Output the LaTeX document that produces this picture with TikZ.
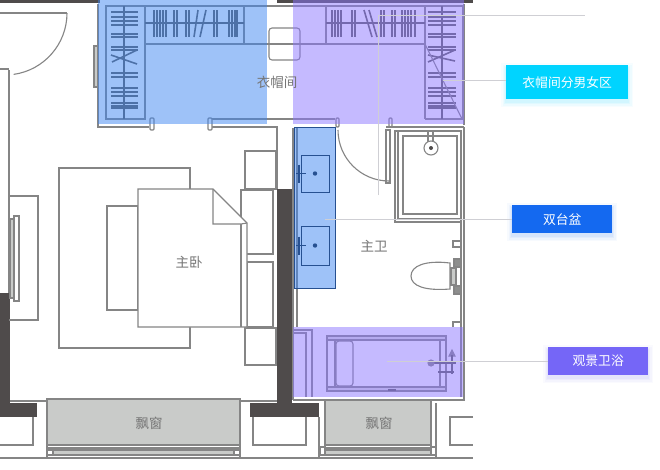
\documentclass[tikz,border=0pt]{standalone}
\usepackage{fontspec}
\setmainfont{Noto Sans CJK SC}
\definecolor{wl}{HTML}{858585}
\definecolor{dk}{HTML}{4F4B4B}
\definecolor{bay}{HTML}{C9CBC9}
\definecolor{ovb}{HTML}{3F86F2}
\definecolor{ovp}{HTML}{8C76FF}
\definecolor{lead}{HTML}{CFCFD4}
\definecolor{tx}{HTML}{757575}
\definecolor{cya}{HTML}{00D4FF}
\definecolor{blu}{HTML}{1469F0}
\definecolor{pur}{HTML}{7566F7}
\tikzset{
 plan/.style={draw=wl,line width=1.1pt},
 thick plan/.style={draw=wl,line width=2pt},
 wallfill/.style={fill=dk,draw=none},
 hang/.style={draw=wl!70!black,line width=1.6pt},
 roomtext/.style={text=tx,font=\fontsize{13.5}{14}\selectfont,inner sep=0pt},
 leader/.style={draw=lead,line width=0.6pt},
 tag/.style={text=white,font=\fontsize{12.8}{13}\selectfont,inner sep=0pt,minimum height=28pt,anchor=north west},
}
\newcommand{\softshadow}[5]{%
 \foreach \e/\o in {5/.03,3.5/.04,2/.05,1/.06}{
  \fill[#5,opacity=\o] (#1-\e,#2-\e+3) rectangle (#3+\e,#4+\e+3);}}
\begin{document}
\begin{tikzpicture}[x=1pt,y=-1pt]
\useasboundingbox (0,0) rectangle (660,469);
\fill[white] (0,0) rectangle (660,469);
% dark walls
\fill[wallfill] (0,0) rectangle (100,3);
\fill[wallfill] (277,0) rectangle (473,3);
\fill[wallfill] (0,293) rectangle (10,417);
\fill[wallfill] (0,403) rectangle (37,417);
\fill[wallfill] (277,189) rectangle (292,417);
\fill[wallfill] (250,403) rectangle (319,417);
% entry door and left wall
\draw[thick plan] (0,13) -- (67,13);
\draw[plan] (0,69) -- (9,69);
\draw[plan] (67,13) arc[start angle=0,end angle=82,radius=62];
\draw[thick plan] (9,70) -- (9,293);
% closet walls
\draw[thick plan] (98,4) -- (98,127) -- (149,127);
\draw[thick plan] (277,189) -- (277,127) -- (212,127);
\draw[plan] (212,119) -- (335,119);
\draw[thick plan] (464,4) -- (464,125);
\draw[plan,fill=white,rounded corners=1pt] (150,118) rectangle (154,130);
\draw[plan,fill=white,rounded corners=1pt] (208,118) rectangle (212,130);
\draw[plan,fill=white,rounded corners=1pt] (336,118) rectangle (339,127);
\draw[plan,fill=white,rounded corners=1pt] (389,118) rectangle (392,127);
\draw[plan,fill=bay] (94,46) rectangle (98,87);
% closets
\draw[plan] (106,6) -- (463,6);
\draw[plan] (106,6) rectangle (145,119);
\draw[plan] (145,6) rectangle (244,44);
\draw[plan] (244,44) -- (425,44);
\draw[plan] (326,6) -- (326,44);
\draw[plan] (425,6) -- (425,119);
\draw[plan] (463,6) -- (463,119) -- (425,119);
\draw[hang] (124,6) -- (124,119);
\draw[hang] (442,6) -- (442,119);
\draw[hang] (145,23) -- (244,23);
\draw[hang] (326,23) -- (425,23);
\foreach \y in {12,17,21,25,34,37,47,50,73,77,88,92,96,103,106,108}{
 \draw[hang] (111,\y) -- (138,\y);
 \draw[hang] (428,\y) -- (456,\y);}
\draw[hang] (112,62) -- (137,50);
\draw[hang] (111,55) -- (137,64);
\draw[hang] (428,55) -- (455,61);
\draw[hang] (428,62) -- (455,50);
\foreach \x in {154,157,160,163,166,174,177,186,189,214,217,229,232,235,237,332,335,338,341,352,355,381,384,392,395,402,405,408,411,415}{
 \draw[hang] (\x,10) -- (\x,37);}
\draw[hang] (200,37) -- (206,10);
\draw[hang] (194,37) -- (198,10);
\draw[hang] (364,10) -- (372,37);
\draw[hang] (369,10) -- (377,37);
\draw[plan] (425,44) -- (462,119);
% ottoman
\draw[plan,rounded corners=3pt] (269,28) rectangle (300,60);
% bedroom furniture
\draw[plan] (59,168) rectangle (190,348);
\draw[plan,fill=white] (107,206) rectangle (138,310);
\draw[plan,fill=white] (245,151) rectangle (276,189);
\draw[plan,fill=white] (245,328) rectangle (276,365);
\draw[plan,fill=white] (241,190) rectangle (273,254);
\draw[plan,fill=white] (247,262) rectangle (273,327);
\draw[plan,fill=white] (138,189) -- (213,189) -- (247,223) -- (247,327) -- (138,327) -- cycle;
\draw[plan] (213,189) -- (213,224) -- (241,224) -- (247,223);
\draw[plan] (241,224) -- (241,327);
\draw[plan] (9,196) -- (38,196) -- (38,320) -- (9,320);
\draw[plan,fill=bay] (10,219) rectangle (14,298);
\draw[plan,fill=white] (14,216) rectangle (19,301);
% bedroom bay window
\draw[plan] (10,401) -- (277,401);
\draw[plan,fill=bay] (47,399) rectangle (240,445);
\draw[plan] (47,445) -- (47,458) (240,445) -- (240,458) (47,448) -- (240,448);
\draw[plan,fill=bay] (50,450) rectangle (236,455);
\draw[plan,fill=white] (47,450) rectangle (53,455);
\draw[plan,fill=white] (234,450) rectangle (240,455);
\draw[plan] (0,445) -- (33,445) -- (33,417);
\draw[plan] (253,417) -- (253,445) -- (306,445) -- (306,417);
\draw[plan] (0,458) -- (473,458);
% bathroom
\draw[plan] (338,130) arc[start angle=180,end angle=90,radius=51];
\draw[plan] (386,130) -- (390,130) -- (390,183) -- (386,183) -- cycle;
\draw[thick plan] (293,128) -- (293,400);
\draw[plan] (297,128) -- (297,327);
\draw[plan] (386,127) -- (464,127);
\draw[thick plan] (464,127) -- (464,400) -- (293,400);
\draw[plan] (461,130) -- (461,397);
\draw[plan] (394,131) -- (461,131);
\draw[thick plan] (395,131) -- (395,222) -- (461,222);
\draw[plan] (398,131) -- (398,219) -- (461,219);
\draw[plan] (403,136) rectangle (457,214);
\draw[plan] (428,130) -- (428,142) (433,130) -- (433,142);
\draw[plan,fill=white] (431,148) circle (7);
\fill[dk] (431,148) circle (2);
% toilet
\draw[plan,fill=white] (450,263) .. controls (425,260) and (411,266) .. (411,276) .. controls (411,286) and (425,291) .. (450,289) -- cycle;
\draw[plan,fill=bay] (451,268) rectangle (456,285);
\draw[plan,fill=bay!70!black] (454,259) rectangle (461,267);
\draw[plan,fill=bay!70!black] (454,286) rectangle (461,294);
\draw[plan] (453,241) rectangle (461,247);
\draw[plan] (453,327) -- (453,322) -- (461,322);
% bath
\draw[plan] (293,333) -- (306,333) -- (306,397);
\draw[plan] (293,330) -- (312,330) -- (312,397);
\draw[plan] (327,336) rectangle (446,391);
\draw[plan,line width=1.6pt] (335,340) rectangle (440,387);
\draw[plan,rounded corners=3pt] (336,341) rectangle (353,386);
\draw[plan,line width=1.4pt,fill=wl!25] (327,336) -- (446,336) -- (446,340) -- (327,340) -- cycle;
\draw[plan,line width=1.4pt,fill=wl!25] (327,387) -- (446,387) -- (446,391) -- (327,391) -- cycle;
\draw[hang] (430,363) -- (456,363);
\draw[hang] (438,372) -- (454,372);
\draw[plan,fill=wl] (431,363) circle (3);
\draw[plan,fill=wl] (452,350) -- (455,356) -- (449,356) -- cycle;
\draw[hang,line width=2pt] (452,355) -- (452,374);
\draw[hang] (388,390) -- (396,390);
% lower bath bay
\draw[thick plan] (325,400) -- (325,455) (431,400) -- (431,455);
\draw[plan] (319,417) -- (319,458) (436,403) -- (436,458);
\draw[plan,fill=bay] (325,400) rectangle (431,445);
\draw[plan] (325,448) -- (431,448);
\draw[plan,fill=bay] (325,450) rectangle (431,455);
\draw[plan,fill=white] (320,447) rectangle (325,455);
\draw[plan,fill=white] (431,447) rectangle (436,455);
\draw[plan] (473,417) -- (450,417) -- (450,445) -- (473,445);
% overlays
\fill[ovb,opacity=.5] (98,0) rectangle (267,124);
\fill[ovp,opacity=.5] (293,0) rectangle (464,124);
\fill[ovb,opacity=.5] (294,127) rectangle (335,288);
\fill[ovp,opacity=.5] (293,327) rectangle (463,397);
% sinks
\foreach \t/\b in {155/192,226/265}{
 \draw[draw=ovb!60!black,line width=1pt] (301,\t) rectangle (329,\b);
 \draw[draw=ovb!60!black,line width=1pt] (296,{(\t+\b)/2}) -- (306,{(\t+\b)/2});
 \draw[draw=ovb!60!black,line width=1.4pt] (299,{(\t+\b)/2-9}) -- (299,{(\t+\b)/2+9});
 \fill[ovb!60!black] (315,{(\t+\b)/2}) circle (2.2);}
\draw[draw=ovb!60!black,line width=.8pt] (294,127) rectangle (335,288);
% room labels
\node[roomtext] (closetlabel) at (277,82) {衣帽间};
\node[roomtext] (bedlabel) at (189,262) {主卧};
\node[roomtext] (bathlabel) at (374,246) {主卫};
\node[roomtext] (baya) at (149,423) {飘窗};
\node[roomtext] (bayb) at (379,423) {飘窗};
% tags
\softshadow{506}{65}{628}{99}{cya}
\softshadow{512}{205}{612}{233}{blu}
\softshadow{548}{347}{648}{375}{pur}
\node[tag,fill=cya,minimum width=122pt,minimum height=34pt] (tagcloset) at (506,65) {衣帽间分男女区};
\node[tag,fill=blu,minimum width=100pt] (tagsink) at (512,205) {双台盆};
\node[tag,fill=pur,minimum width=100pt] (tagbath) at (548,347) {观景卫浴};
% leaders
\coordinate (leadtopend) at (585,15);
\coordinate (leadtopturn) at (378,15);
\coordinate (leadtopfoot) at (378,195);
\coordinate (leadcloset) at (443,80);
\coordinate (leadsink) at (325,219);
\coordinate (leadbath) at (387,361);
\draw[leader] (leadtopfoot) -- (leadtopturn) -- (leadtopend);
\draw[leader] (leadcloset) -- (tagcloset.west |- leadcloset);
\draw[leader] (leadsink) -- (tagsink.west |- leadsink);
\draw[leader] (leadbath) -- (tagbath.west |- leadbath);
\end{tikzpicture}
\end{document}
